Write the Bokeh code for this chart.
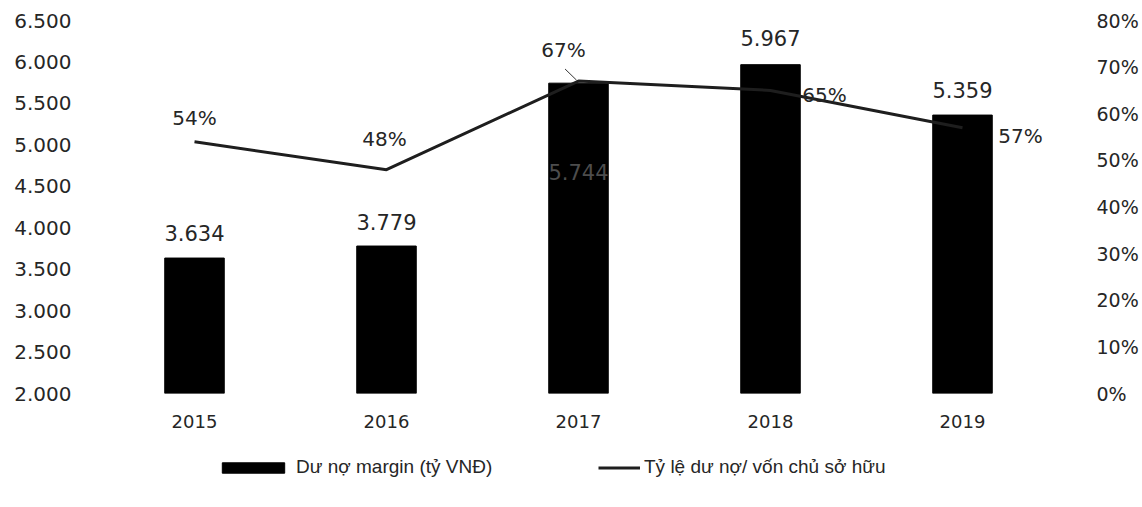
from bokeh.plotting import figure
from bokeh.layouts import column
from bokeh.models import (ColumnDataSource, Range1d, LinearAxis, FixedTicker,
                          Legend, LegendItem)
from bokeh.core.properties import value
from bokeh.embed import file_html
from bokeh.resources import INLINE

# ---- data ----
years = ["2015", "2016", "2017", "2018", "2019"]
margin_debt = [3634, 3779, 5744, 5967, 5359]          # tỷ VNĐ
debt_ratio = [0.54, 0.48, 0.67, 0.65, 0.57]           # dư nợ / vốn chủ sở hữu
left_ticks = [2000, 2500, 3000, 3500, 4000, 4500, 5000, 5500, 6000, 6500]
right_ticks = [0.0, 0.1, 0.2, 0.3, 0.4, 0.5, 0.6, 0.7, 0.8]
bar_legend = "Dư nợ margin (tỷ VNĐ)"
line_legend = "Tỷ lệ dư nợ/ vốn chủ sở hữu"

# ---- styles ----
NUM_FONT = "DejaVu Sans"
TXT = "#262626"
BAR_COLOR = "black"
LINE_COLOR = "#1e1e1e"
idx = list(range(len(years)))

def fmt_thousands(v):
    return f"{v:,}".replace(",", ".")

bar_src = ColumnDataSource(dict(
    x=idx, top=margin_debt,
    label=[fmt_thousands(v) for v in margin_debt],
    yoff=[-25, -24, 89, -27, -25],
    color=[TXT, TXT, "#4d4d4d", TXT, TXT],
))
line_src = ColumnDataSource(dict(
    x=idx, y=debt_ratio,
    label=[f"{round(v*100)}%" for v in debt_ratio],
    xoff=[0, -2, -15, 54, 58],
    yoff=[-24, -31, -31, 5, 8],
))

p = figure(frame_width=960, frame_height=373, output_backend="svg",
           toolbar_location=None,
           x_range=Range1d(-0.5, 4.5), y_range=Range1d(2000, 6500),
           min_border_left=98, min_border_right=84, min_border_top=20,
           min_border_bottom=60)
p.outline_line_color = None
p.xgrid.visible = False
p.ygrid.visible = False
p.background_fill_color = "white"
p.border_fill_color = "white"

p.extra_y_ranges = {"pct": Range1d(0, 0.8)}

bars = p.vbar(x="x", top="top", bottom=2000, width=0.31, source=bar_src,
              fill_color=BAR_COLOR, line_color=BAR_COLOR)
line = p.line(x="x", y="y", source=line_src, y_range_name="pct",
              line_color=LINE_COLOR, line_width=3)

# leader line of the 67% label
k = debt_ratio.index(0.67)
p.segment(x0=[k - 0.07], y0=[debt_ratio[k] + 0.026], x1=[k - 0.01],
          y1=[debt_ratio[k] + 0.002], y_range_name="pct",
          line_color="#333333", line_width=1)

p.text(x="x", y="top", text="label", source=bar_src, y_offset="yoff",
       text_align="center", text_baseline="middle", text_color="color",
       text_font=value(NUM_FONT), text_font_size="21px")
p.text(x="x", y="y", text="label", source=line_src, y_range_name="pct",
       x_offset="xoff", y_offset="yoff",
       text_align="center", text_baseline="middle", text_color=TXT,
       text_font=value(NUM_FONT), text_font_size="20px")

# axes
def style_axis(ax, size, standoff):
    ax.axis_line_color = None
    ax.major_tick_line_color = None
    ax.minor_tick_line_color = None
    ax.major_label_text_font = NUM_FONT
    ax.major_label_text_font_size = size
    ax.major_label_text_color = TXT
    ax.major_label_standoff = standoff

p.xaxis.ticker = FixedTicker(ticks=idx)
p.xaxis.major_label_overrides = {i: y for i, y in zip(idx, years)}
style_axis(p.xaxis[0], "18px", 15)

p.yaxis.ticker = FixedTicker(ticks=left_ticks)
p.yaxis.major_label_overrides = {t: fmt_thousands(t) for t in left_ticks}
style_axis(p.yaxis[0], "20px", 21)

raxis = LinearAxis(y_range_name="pct", ticker=FixedTicker(ticks=right_ticks))
raxis.major_label_overrides = {t: f"{round(t*100)}%" for t in right_ticks}
style_axis(raxis, "19px", 32)
p.add_layout(raxis, "right")

# ---- legend strip (below the chart); legend-only glyphs hold no drawable point ----
lg = figure(width=1142, height=54, output_backend="svg", toolbar_location=None,
            x_axis_type=None, y_axis_type=None,
            x_range=Range1d(0, 1), y_range=Range1d(0, 1),
            min_border=0, min_border_left=0, min_border_right=0,
            min_border_top=0, min_border_bottom=0)
lg.outline_line_color = None
lg.xgrid.visible = False
lg.ygrid.visible = False
nan = float("nan")
lg_bar = lg.vbar(x=[nan], top=[nan], width=0.31,
                 fill_color=BAR_COLOR, line_color=BAR_COLOR)
lg_line = lg.line(x=[nan, nan], y=[nan, nan], line_color=LINE_COLOR,
                  line_width=3)

def make_legend(item, loc, gw):
    return Legend(items=[item], location=loc, orientation="horizontal",
                  glyph_width=gw, glyph_height=13, label_height=20,
                  label_standoff=4, padding=0, margin=0, spacing=0,
                  border_line_color=None, background_fill_alpha=0,
                  label_text_font="Liberation Sans",
                  label_text_font_size="19px", label_text_color=TXT)

lg.add_layout(make_legend(LegendItem(label=bar_legend, renderers=[lg_bar]),
                          (116, 29), 78))
lg.add_layout(make_legend(LegendItem(label=line_legend, renderers=[lg_line]),
                          (500, 29), 42))

layout = column(p, lg, spacing=0)
open("out.html", "w").write(file_html(layout, INLINE))
